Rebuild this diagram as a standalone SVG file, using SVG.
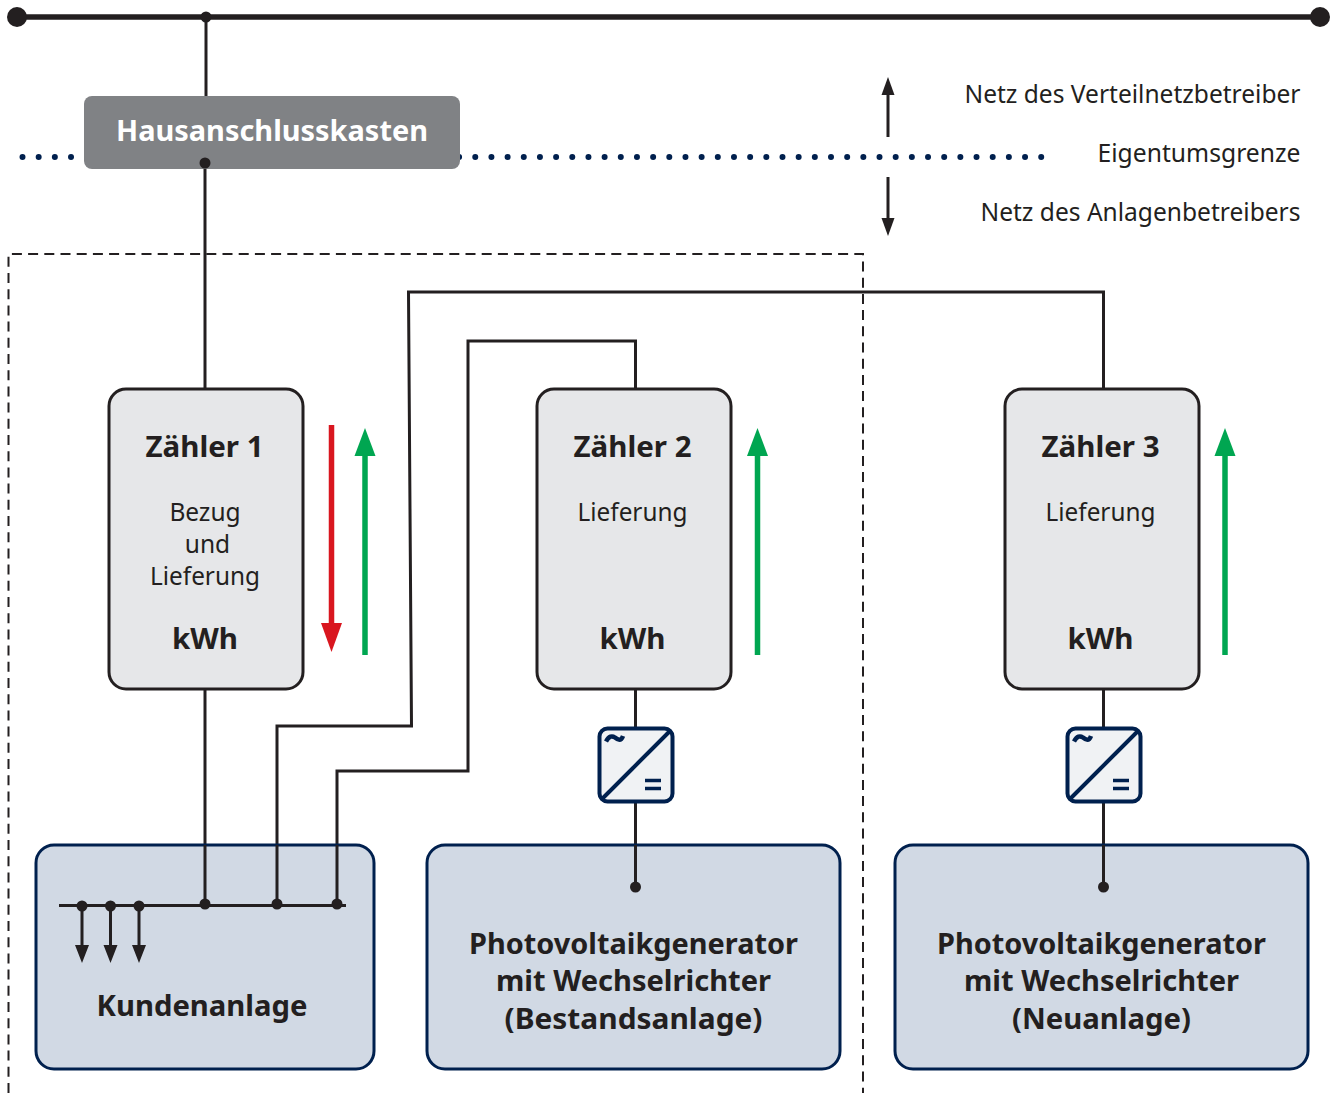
<svg xmlns="http://www.w3.org/2000/svg" width="1338" height="1093" viewBox="0 0 1338 1093">
<defs>
<g id="inv-sym">
<rect x="-36.500" y="-36.500" width="73" height="73" rx="8" fill="#f0f2f4" stroke="#00204e" stroke-width="4"/>
<path d="M-35 35L35 -35" stroke="#00204e" stroke-width="4" fill="none"/>
<path d="M-30 -23.500C-27 -29 -24 -29.500 -21 -27.500C-18 -25 -15 -23.500 -13 -29" stroke="#00204e" stroke-width="4.500" fill="none"/>
<path d="M9 15.500H25M9 23.500H25" stroke="#00204e" stroke-width="3.500" fill="none"/>
</g>
</defs>
<style>
text{font-family:"Noto Sans","Liberation Sans",sans-serif;fill:#231f20}
.b{font-weight:700;font-size:29px}
.r{font-size:24.500px;font-weight:400}
.l{fill:none;stroke:#231f20;stroke-width:3}
.m{fill:#e6e7e9;stroke:#231f20;stroke-width:3}
.c{fill:#d1d9e4;stroke:#00204e;stroke-width:3}
.d{fill:#231f20}
.red{stroke:#d9161f;stroke-width:5.500;fill:none}
.grn{stroke:#00a651;stroke-width:5.500;fill:none}
</style>
<g id="grenze"><line x1="22.500" y1="157" x2="1046" y2="157" stroke="#00204e" stroke-width="6" stroke-linecap="round" stroke-dasharray="0 16.170"/></g>
<g id="rahmen"><path d="M8.500 1093V254H863V1093" fill="none" stroke="#231f20" stroke-width="2" stroke-dasharray="10 6.200"/></g>
<g id="connectors">
<path class="l" d="M206 17V97"/>
<path class="l" d="M205 163V389"/>
<path class="l" d="M205 688V905"/>
<path class="l" d="M1103.500 389V292H408.500L411.500 726H277V905"/>
<path class="l" d="M635.500 389V341H468V771H337V905"/>
<path class="l" d="M635.500 688V887"/>
<path class="l" d="M1103.500 688V887"/>
</g>
<g id="netz"><line x1="17" y1="17" x2="1320" y2="17" stroke="#231f20" stroke-width="5.500"/><circle class="d" cx="17" cy="17" r="10"/><circle class="d" cx="1320" cy="17" r="10"/><circle class="d" cx="206" cy="17" r="5.500"/></g>
<g id="hak"><rect x="84" y="96" width="376" height="73" rx="8" fill="#808285"/><text class="b" x="272" y="141" text-anchor="middle" style="fill:#fff" textLength="312" lengthAdjust="spacingAndGlyphs">Hausanschlusskasten</text><circle class="d" cx="205" cy="163" r="5.500"/></g>
<g id="legende">
<path d="M888 137V94" stroke="#231f20" stroke-width="3"/><path class="d" d="M881.500 95H894.500L888 77Z"/>
<path d="M888 177V219" stroke="#231f20" stroke-width="3"/><path class="d" d="M881.500 218H894.500L888 236Z"/>
<text class="r" x="1300.500" y="102.500" text-anchor="end" textLength="336" lengthAdjust="spacingAndGlyphs">Netz des Verteilnetzbetreiber</text>
<text class="r" x="1300.500" y="161.500" text-anchor="end" textLength="203" lengthAdjust="spacingAndGlyphs">Eigentumsgrenze</text>
<text class="r" x="1300.500" y="220.500" text-anchor="end" textLength="320" lengthAdjust="spacingAndGlyphs">Netz des Anlagenbetreibers</text>
</g>
<g id="zaehler1"><rect class="m" x="109" y="389" width="194" height="300" rx="17"/>
<text class="b" x="204.500" y="457" text-anchor="middle" textLength="118" lengthAdjust="spacingAndGlyphs">Zähler 1</text>
<text class="r" x="205" y="521" text-anchor="middle">Bezug</text><text class="r" x="207.500" y="553" text-anchor="middle">und</text><text class="r" x="205" y="585" text-anchor="middle" textLength="110" lengthAdjust="spacingAndGlyphs">Lieferung</text>
<text class="b" x="205" y="649" text-anchor="middle" textLength="66" lengthAdjust="spacingAndGlyphs">kWh</text></g>
<g id="zaehler2"><rect class="m" x="537" y="389" width="194" height="300" rx="17"/>
<text class="b" x="632.500" y="457" text-anchor="middle" textLength="118" lengthAdjust="spacingAndGlyphs">Zähler 2</text>
<text class="r" x="632.500" y="521" text-anchor="middle" textLength="110" lengthAdjust="spacingAndGlyphs">Lieferung</text>
<text class="b" x="632.500" y="649" text-anchor="middle" textLength="66" lengthAdjust="spacingAndGlyphs">kWh</text></g>
<g id="zaehler3"><rect class="m" x="1005" y="389" width="194" height="300" rx="17"/>
<text class="b" x="1100.500" y="457" text-anchor="middle" textLength="118" lengthAdjust="spacingAndGlyphs">Zähler 3</text>
<text class="r" x="1100.500" y="521" text-anchor="middle" textLength="110" lengthAdjust="spacingAndGlyphs">Lieferung</text>
<text class="b" x="1100.500" y="649" text-anchor="middle" textLength="66" lengthAdjust="spacingAndGlyphs">kWh</text></g>
<g id="pfeile">
<path class="red" d="M331.500 425V624"/><path d="M321 623H342L331.500 652Z" fill="#d9161f"/>
<path class="grn" d="M365 655V455"/><path d="M354.500 456H375.500L365 428Z" fill="#00a651"/>
<path class="grn" d="M757.500 655V455"/><path d="M747 456H768L757.500 428Z" fill="#00a651"/>
<path class="grn" d="M1225 655V455"/><path d="M1214.500 456H1235.500L1225 428Z" fill="#00a651"/>
</g>
<g id="wr2"><use href="#inv-sym" x="636" y="765"/></g>
<g id="wr3"><use href="#inv-sym" x="1104" y="765"/></g>
<g id="kundenanlage"><rect class="c" x="36" y="845" width="338" height="224" rx="18"/>
<path class="l" d="M205 845V905M277 845V905M337 845V905M59 905.500H346"/>
<path class="l" d="M82 906V946M110.500 906V946M139 906V946"/>
<path class="d" d="M75 945H89L82 963ZM103.500 945H117.500L110.500 963ZM132 945H146L139 963Z"/>
<circle class="d" cx="82" cy="906" r="5.500"/><circle class="d" cx="110.500" cy="906" r="5.500"/><circle class="d" cx="139" cy="906" r="5.500"/><circle class="d" cx="205" cy="904" r="5.500"/><circle class="d" cx="277" cy="904" r="5.500"/><circle class="d" cx="337" cy="904" r="5.500"/>
<text class="b" x="202" y="1016" text-anchor="middle" textLength="211" lengthAdjust="spacingAndGlyphs">Kundenanlage</text></g>
<g id="pv-bestand"><rect class="c" x="427" y="845" width="413" height="224" rx="18"/>
<path class="l" d="M635.500 845V887"/><circle class="d" cx="635.500" cy="887" r="5.500"/>
<text class="b" x="633.500" y="954" text-anchor="middle" textLength="329" lengthAdjust="spacingAndGlyphs">Photovoltaikgenerator</text>
<text class="b" x="633.500" y="991" text-anchor="middle" textLength="275" lengthAdjust="spacingAndGlyphs">mit Wechselrichter</text>
<text class="b" x="633.500" y="1029" text-anchor="middle" textLength="258" lengthAdjust="spacingAndGlyphs">(Bestandsanlage)</text></g>
<g id="pv-neu"><rect class="c" x="895" y="845" width="413" height="224" rx="18"/>
<path class="l" d="M1103.500 845V887"/><circle class="d" cx="1103.500" cy="887" r="5.500"/>
<text class="b" x="1101.500" y="954" text-anchor="middle" textLength="329" lengthAdjust="spacingAndGlyphs">Photovoltaikgenerator</text>
<text class="b" x="1101.500" y="991" text-anchor="middle" textLength="275" lengthAdjust="spacingAndGlyphs">mit Wechselrichter</text>
<text class="b" x="1101.500" y="1029" text-anchor="middle" textLength="179" lengthAdjust="spacingAndGlyphs">(Neuanlage)</text></g>
</svg>
